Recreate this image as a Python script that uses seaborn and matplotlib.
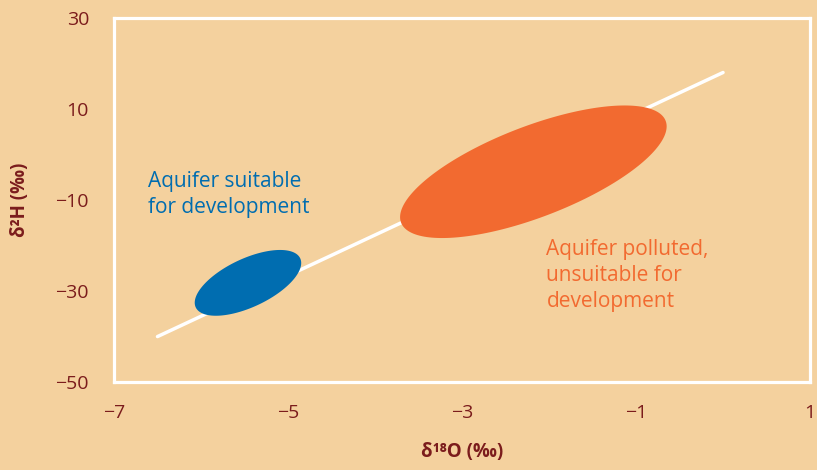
import numpy as np
import pandas as pd
import matplotlib.pyplot as plt
import seaborn as sns

# Meteoric water line
line_o18 = [-6.5, 0.0]
line_h2 = [-40.0, 18.0]

# Ellipses: centre, half major axis vector, half minor axis vector (data units)
blue_centre = (-5.46, -28.2)
blue_major = (0.60, 5.4)
blue_minor = (-0.12, 4.8)

orange_centre = (-2.18, -3.8)
orange_major = (1.52, 11.2)
orange_minor = (-0.19, 9.3)

x_ticks = [-7, -5, -3, -1, 1]
y_ticks = [-50, -30, -10, 10, 30]

BG = "#F4D19E"
BLUE = "#006DB0"
ORANGE = "#F26A30"
DARKRED = "#7B1C1C"

sns.set_theme(style="white")
plt.rcParams["font.family"] = ["Open Sans", "DejaVu Sans"]

fig = plt.figure(figsize=(8.17, 4.70), dpi=100, facecolor=BG)
ax = fig.add_axes([0.1395, 0.187, 0.852, 0.775])
ax.set_facecolor(BG)


def ellipse_points(centre, major, minor, n=200):
    t = np.linspace(0, 2 * np.pi, n)
    x = centre[0] + major[0] * np.cos(t) + minor[0] * np.sin(t)
    y = centre[1] + major[1] * np.cos(t) + minor[1] * np.sin(t)
    return x, y


line_df = pd.DataFrame({"o18": line_o18, "h2": line_h2})
sns.lineplot(data=line_df, x="o18", y="h2", color="white", linewidth=2.5, ax=ax, zorder=2)

bx, by = ellipse_points(blue_centre, blue_major, blue_minor)
ax.fill(bx, by, color=BLUE, lw=0, zorder=3)
ox, oy = ellipse_points(orange_centre, orange_major, orange_minor)
ax.fill(ox, oy, color=ORANGE, lw=0, zorder=3)

ax.text(-6.61, -3.6, "Aquifer suitable\nfor development", color=BLUE,
        fontsize=15, va="top", ha="left", linespacing=1.3)
ax.text(-2.03, -18.6, "Aquifer polluted,\nunsuitable for\ndevelopment", color=ORANGE,
        fontsize=15, va="top", ha="left", linespacing=1.3)

ax.set_xlim(-7, 1)
ax.set_ylim(-50, 30)
ax.set_xticks(x_ticks)
ax.set_yticks(y_ticks)
ax.set_xticklabels([f"{v}".replace("-", "\u2212") for v in x_ticks])
ax.set_yticklabels([f"{v}".replace("-", "\u2212") for v in y_ticks])

for s in ax.spines.values():
    s.set_color("white")
    s.set_linewidth(2.3)

ax.tick_params(axis="both", direction="out", length=8, width=1, color="#FBEBD3",
               labelcolor=DARKRED, labelsize=14, pad=10)
ax.tick_params(axis="x", pad=8)

ax.set_xlabel("δ¹⁸O (‰)", color=DARKRED, fontsize=13.5, fontweight="bold", labelpad=14)
ax.set_ylabel("δ²H (‰)", color=DARKRED, fontsize=13.5, fontweight="bold", labelpad=18)

fig.savefig("out.png", dpi=100, facecolor=BG)
